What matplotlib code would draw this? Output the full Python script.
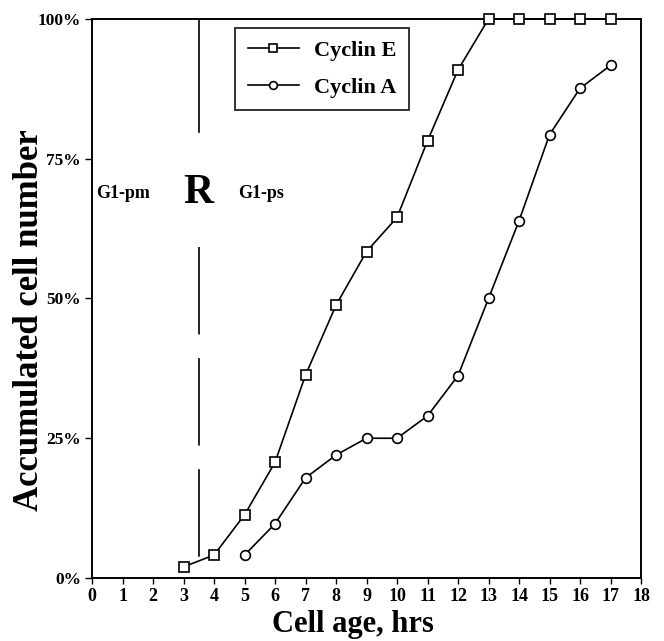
import matplotlib
matplotlib.use("Agg")
import matplotlib.pyplot as plt
from matplotlib.ticker import FuncFormatter

plt.rcParams['font.family'] = ['Liberation Serif', 'DejaVu Serif']
plt.rcParams['font.weight'] = 'bold'
plt.rcParams['lines.scale_dashes'] = False

hours_e = [3, 4, 5, 6, 7, 8, 9, 10, 11, 12, 13, 14, 15, 16, 17]
cyclin_e = [2.0, 4.1, 11.3, 20.7, 36.3, 48.8, 58.4, 64.5, 78.2, 90.9, 100, 100, 100, 100, 100]
hours_a = [5, 6, 7, 8, 9, 10, 11, 12, 13, 14, 15, 16, 17]
cyclin_a = [4.1, 9.7, 17.9, 22.0, 25.0, 25.0, 29.0, 36.2, 50.0, 63.9, 79.3, 87.6, 91.7]
x_ticks = list(range(0, 19))
y_ticks = [0, 25, 50, 75, 100]
r_point = 3.5

fig = plt.figure(figsize=(6.64, 6.41), dpi=100)
ax = fig.add_axes([0.1386, 0.0983, 0.9654 - 0.1386, 0.9704 - 0.0983])

ax.plot(hours_e, cyclin_e, color='black', lw=1.2, marker='s', ms=7,
        mfc='white', mec='black', mew=1.2, label='Cyclin E', clip_on=False, zorder=3)
ax.plot(hours_a, cyclin_a, color='black', lw=1.2, marker='o', ms=7,
        mfc='white', mec='black', mew=1.2, label='Cyclin A', clip_on=False, zorder=3)

# restriction point line
ax.plot([r_point, r_point], [100, 79.8], color='black', lw=1.2)
ln, = ax.plot([r_point, r_point], [59.2, 0.5], color='black', lw=1.2)
ln.set_dashes([63, 17])

ax.text(0.13, 68.8, 'G1-pm', fontsize=13, fontweight='bold', ha='left', va='center')
ax.text(r_point, 68.8, 'R', fontsize=30, fontweight='bold', ha='center', va='center')
ax.text(4.8, 68.8, 'G1-ps', fontsize=13, fontweight='bold', ha='left', va='center')

ax.set_xlim(0, 18)
ax.set_ylim(0, 100)
ax.set_xticks(x_ticks)
ax.set_yticks(y_ticks)
ax.yaxis.set_major_formatter(FuncFormatter(lambda v, p: f"{int(v)}%"))
ax.tick_params(axis='x', direction='out', length=4, width=1.0, labelsize=13, pad=3)
ax.tick_params(axis='y', direction='out', length=5, width=1.0, labelsize=12.5, pad=3)
for lab in ax.get_xticklabels() + ax.get_yticklabels():
    lab.set_fontweight('bold')
for s in ax.spines.values():
    s.set_linewidth(1.4)

ax.set_xlabel('Cell age, hrs', fontsize=22, fontweight='bold')
ax.set_ylabel('Accumulated cell number', fontsize=25, fontweight='bold')
ax.xaxis.set_label_coords(0.475, -0.057)
ax.yaxis.set_label_coords(-0.083, 0.4615)

leg = ax.legend(loc='upper left', bbox_to_anchor=(0.261, 0.984), frameon=True,
                fancybox=False, edgecolor='black', fontsize=16, handlelength=2.3,
                borderpad=0.55, labelspacing=0.75, handletextpad=0.7, borderaxespad=0,
                markerscale=0.8)
leg.get_frame().set_linewidth(1.4)
for t in leg.get_texts():
    t.set_fontweight('bold')

fig.savefig('out.png', dpi=100)
